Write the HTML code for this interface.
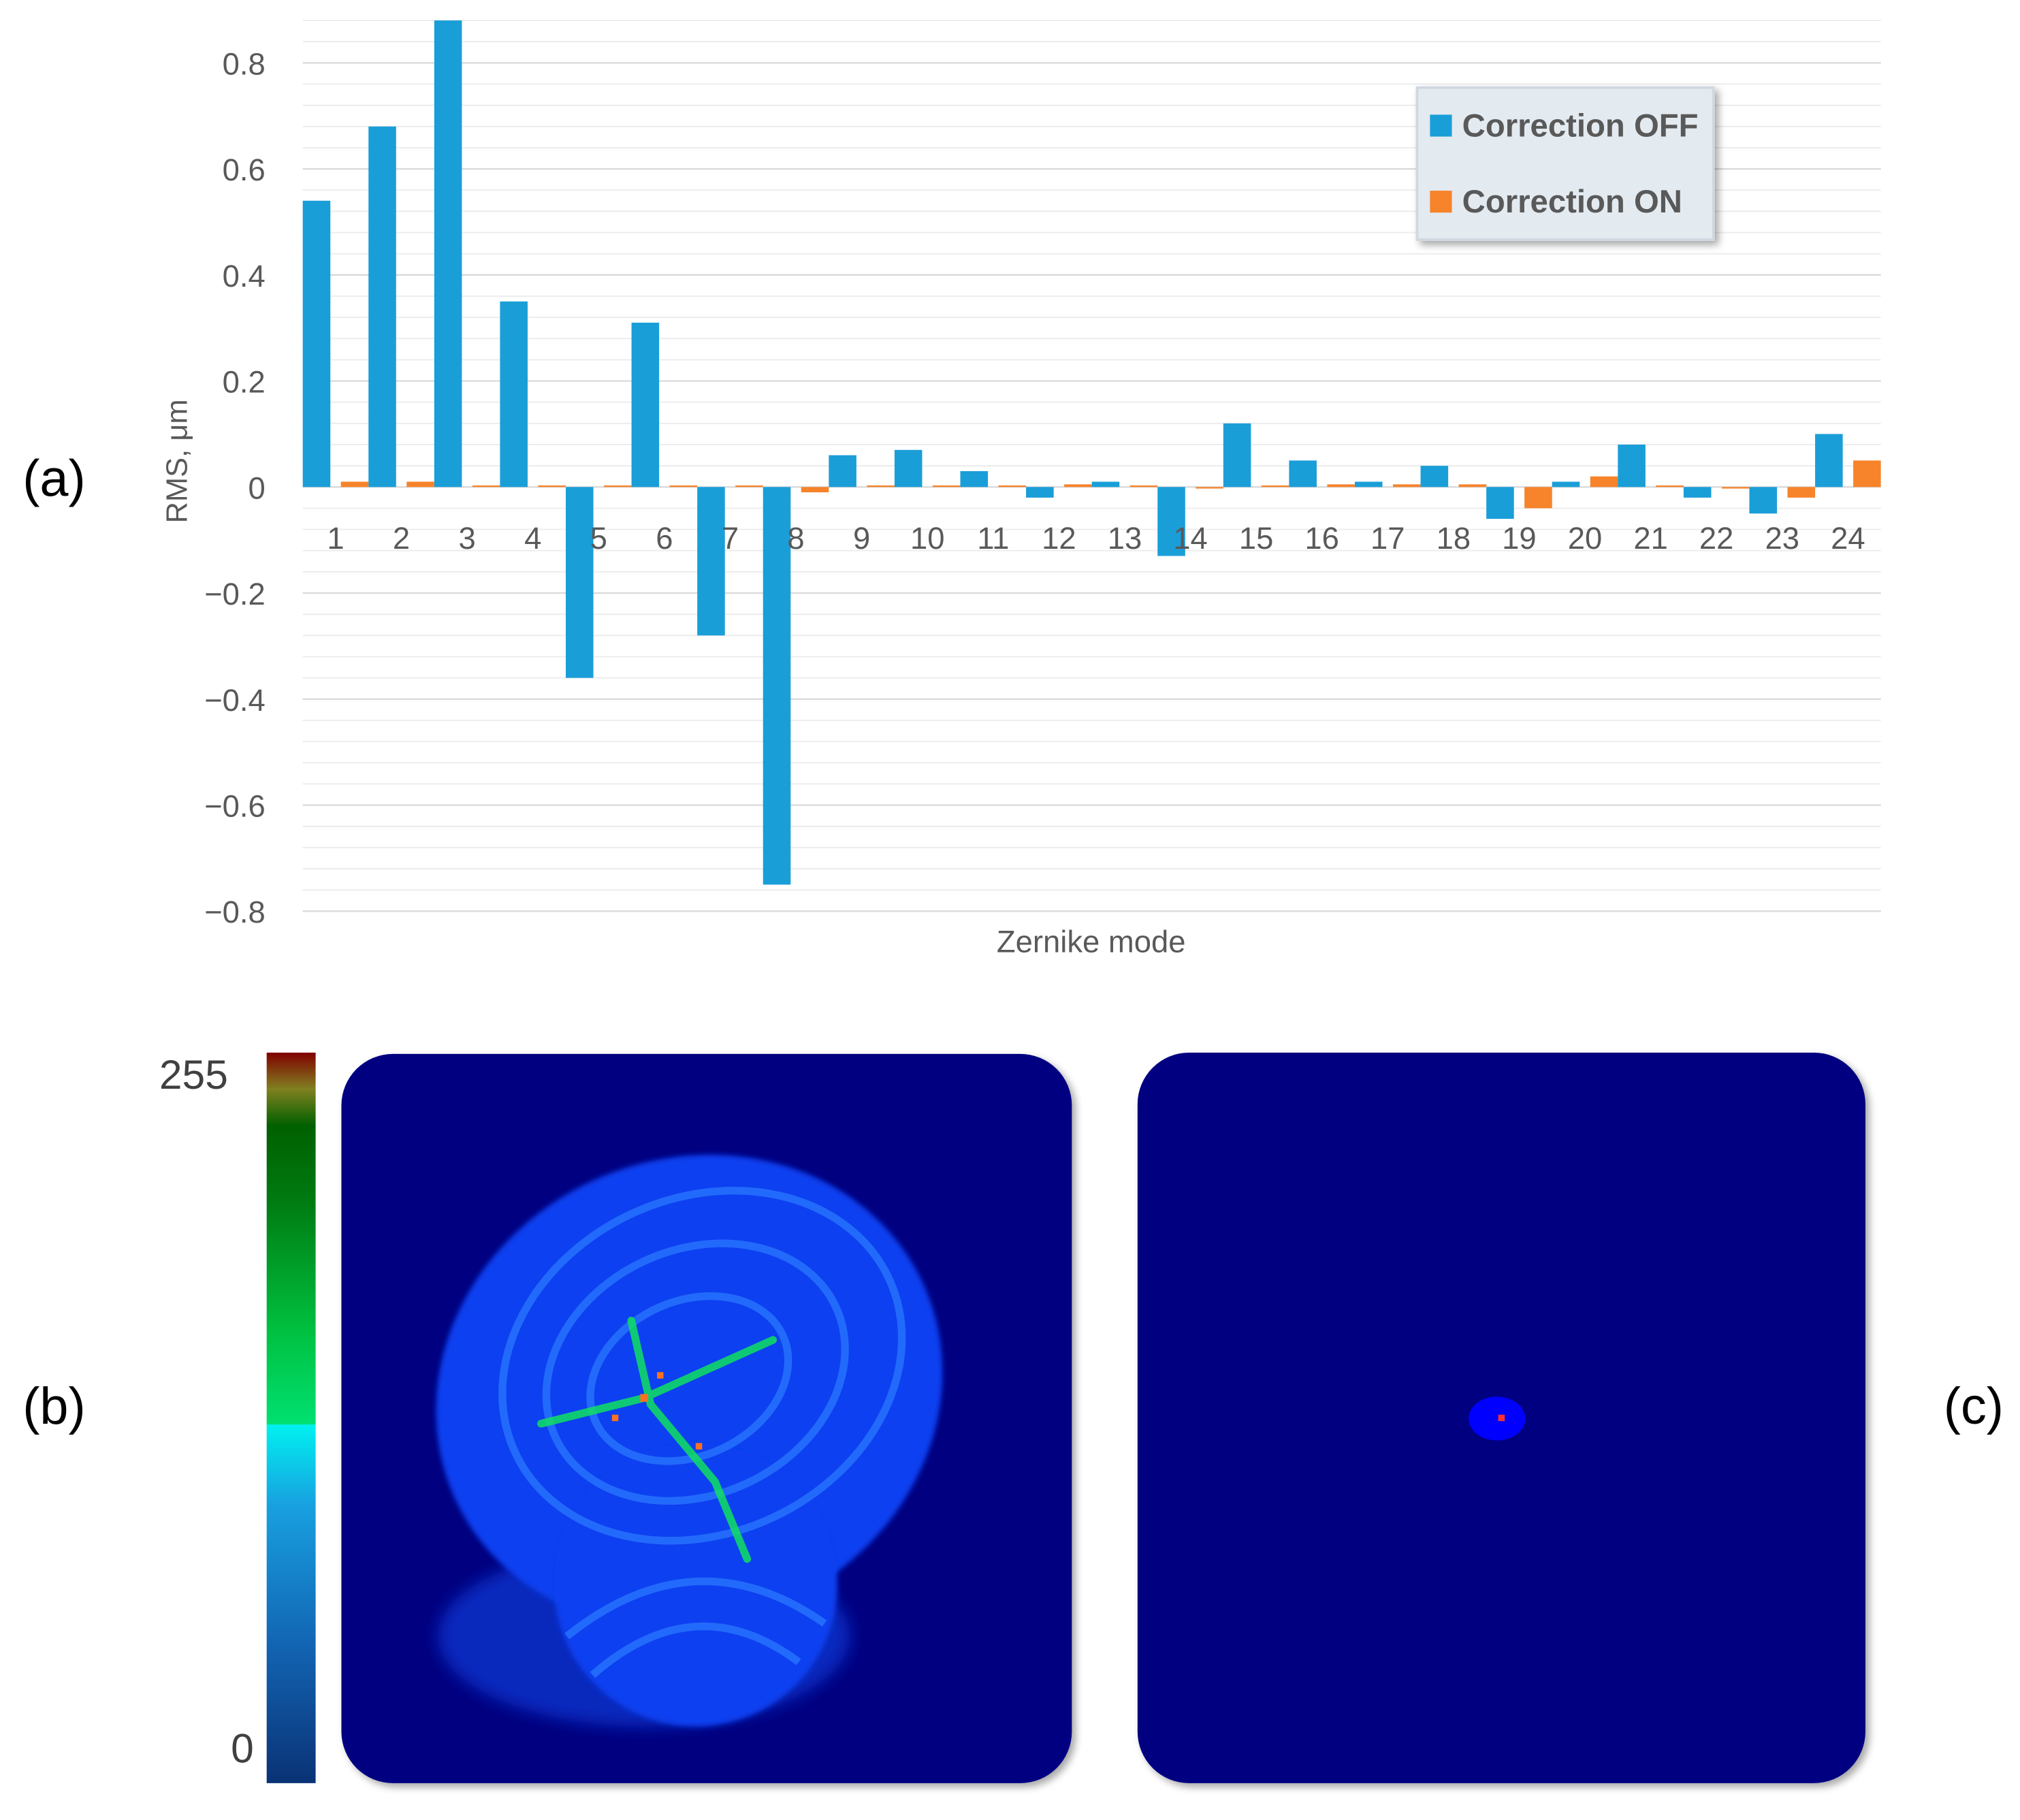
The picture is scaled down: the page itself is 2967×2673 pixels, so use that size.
<!DOCTYPE html>
<html><head><meta charset="utf-8"><style>
html,body{margin:0;padding:0;background:#fff;}
svg{display:block;}
text{font-family:"Liberation Sans","DejaVu Sans",sans-serif;}
</style></head><body>
<svg id="fig" width="2967" height="2673" viewBox="0 0 1568 1412.6" preserveAspectRatio="none" xmlns="http://www.w3.org/2000/svg">
<defs>
<linearGradient id="cbar" x1="0" y1="1" x2="0" y2="0">
<stop offset="0" stop-color="#0a3275"/>
<stop offset="0.18" stop-color="#1262b0"/>
<stop offset="0.38" stop-color="#18a0e0"/>
<stop offset="0.49" stop-color="#00f0f0"/>
<stop offset="0.492" stop-color="#00e070"/>
<stop offset="0.62" stop-color="#00c040"/>
<stop offset="0.8" stop-color="#007a10"/>
<stop offset="0.9" stop-color="#006000"/>
<stop offset="0.95" stop-color="#808020"/>
<stop offset="1" stop-color="#800000"/>
</linearGradient>
<filter id="shadow" x="-5%" y="-5%" width="115%" height="115%"><feDropShadow dx="3" dy="3" stdDeviation="3" flood-color="#000" flood-opacity="0.35"/></filter>
<filter id="blur2"><feGaussianBlur stdDeviation="2"/></filter>
<filter id="blur6"><feGaussianBlur stdDeviation="6"/></filter>
<clipPath id="clipB"><rect x="265" y="818" width="567" height="566" rx="40"/></clipPath>
</defs>

<g id="chart"></g>

<text x="42" y="385" font-size="40" text-anchor="middle" fill="#000">(a)</text>
<text x="42" y="1105" font-size="40" text-anchor="middle" fill="#000">(b)</text>
<text x="1532" y="1105" font-size="40" text-anchor="middle" fill="#000">(c)</text>

<rect x="207" y="817" width="38" height="567" fill="url(#cbar)"/>
<text x="177" y="845" font-size="32" text-anchor="end" fill="#404040">255</text>
<text x="197" y="1368" font-size="32" text-anchor="end" fill="#404040">0</text>

<g>
<rect x="265" y="818" width="567" height="566" rx="40" fill="#000080" filter="url(#shadow)"/>
<g clip-path="url(#clipB)">
<ellipse cx="500" cy="1270" rx="160" ry="70" fill="#0a3ad8" opacity="0.7" filter="url(#blur6)"/>
<ellipse cx="535" cy="1080" rx="200" ry="180" fill="#0840f0" transform="rotate(-25 535 1080)" filter="url(#blur2)"/>
<ellipse cx="540" cy="1230" rx="110" ry="110" fill="#0a40f0" filter="url(#blur2)"/>
<g fill="none" stroke="#2a78ff" stroke-width="6" opacity="0.75">
<ellipse cx="545" cy="1060" rx="160" ry="130" transform="rotate(-25 545 1060)"/>
<ellipse cx="540" cy="1065" rx="120" ry="95" transform="rotate(-25 540 1065)"/>
<ellipse cx="535" cy="1070" rx="80" ry="60" transform="rotate(-25 535 1070)"/>
<path d="M440 1270 Q540 1190 640 1260"/>
<path d="M460 1300 Q540 1230 620 1290"/>
</g>
<g stroke="#10e060" stroke-width="6" fill="none" stroke-linecap="round" opacity="0.85">
<path d="M420 1105 L500 1085 L600 1040"/>
<path d="M490 1025 L505 1090 L555 1150 L580 1210"/>
</g>
<g fill="#ff7020">
<rect x="497" y="1082" width="6" height="6"/><rect x="510" y="1065" width="5" height="5"/><rect x="540" y="1120" width="5" height="5"/><rect x="475" y="1098" width="5" height="5"/>
</g>
</g>
</g>

<g>
<rect x="883" y="817" width="565" height="567" rx="40" fill="#000080" filter="url(#shadow)"/>
<ellipse cx="1162" cy="1101" rx="22" ry="17" fill="#0000ff"/>
<rect x="1163" y="1098" width="5" height="5" fill="#ff3030"/>
</g>

<script>
const categories = ["1","2","3","4","5","6","7","8","9","10","11","12","13","14","15","16","17","18","19","20","21","22","23","24"];
const offValues = [0.54,0.68,0.88,0.35,-0.36,0.31,-0.28,-0.75,0.06,0.07,0.03,-0.02,0.01,-0.13,0.12,0.05,0.01,0.04,-0.06,0.01,0.08,-0.02,-0.05,0.10];
const onValues = [0.01,0.01,0.003,0.003,0.003,0.003,0.003,-0.01,0.003,0.003,0.003,0.005,0.003,0,0.003,0.005,0.005,0.005,-0.04,0.02,0.003,0,-0.02,0.05];
const yTicks = [0.8,0.6,0.4,0.2,0,-0.2,-0.4,-0.6,-0.8];
const yTickLabels = ["0.8","0.6","0.4","0.2","0","\u22120.2","\u22120.4","\u22120.6","\u22120.8"];
const seriesNames = ["Correction OFF","Correction ON"];

const NS = "http://www.w3.org/2000/svg";
const g = document.getElementById("chart");
const X0 = 235, X1 = 1460, Y0 = 378, PER = 82.3/0.2;
const step = (X1 - X0) / categories.length;
function y(v){ return Y0 - v*PER; }
function xg(i){ return X0 + i*step; }
function mk(tag, attrs){ const e = document.createElementNS(NS, tag); for (const k in attrs) e.setAttribute(k, attrs[k]); g.appendChild(e); return e; }

for (let v = -0.8; v <= 0.881; v += 0.04) {
  const l = mk("line", {x1:X0, x2:X1, y1:y(v), y2:y(v), stroke:"#ececec", "stroke-width":1});
  
  
}
yTicks.forEach((v, i) => {
  const l = mk("line", {x1:X0, x2:X1, y1:y(v), y2:y(v), stroke:"#d9d9d9", "stroke-width":1.2});
  
  
  const t = mk("text", {x:206, y:y(v)+9, "font-size":24, "text-anchor":"end", fill:"#595959"});
  t.textContent = yTickLabels[i];
  
  
});
const bw = step*0.42;
categories.forEach((c, i) => {
  const b1 = mk("rect", {x:xg(i), width:bw, y:Math.min(y(offValues[i]),Y0), height:Math.max(Math.abs(y(offValues[i])-Y0),0.5), fill:"#1a9ed8"});
  
  
  const b2 = mk("rect", {x:xg(i)+step*0.58, width:bw, y:Math.min(y(onValues[i]),Y0), height:Math.max(Math.abs(y(onValues[i])-Y0),1.2), fill:"#f7832a"});
  
  
  const t = mk("text", {x:xg(i)+step/2, y:426, "font-size":24, "text-anchor":"middle", fill:"#595959"});
  t.textContent = c;
  
  
});
const xt = mk("text", {x:847, y:739, "font-size":24, "text-anchor":"middle", fill:"#595959"});
xt.textContent = "Zernike mode";


const yt = mk("text", {x:0, y:0, "font-size":23, "text-anchor":"middle", fill:"#595959", transform:"translate(145 358) rotate(-90)"});
yt.textContent = "RMS, \u03bcm";


const lg = mk("rect", {x:1100, y:68, width:230, height:118, fill:"#e3eaf0", stroke:"#d0d8e0", "stroke-width":2, filter:"url(#shadow)"});


const colors = ["#1a9ed8","#f7832a"];
seriesNames.forEach((n, i) => {
  const s = mk("rect", {x:1110, y:89+i*59, width:17, height:17, fill:colors[i]});
  
  
  const t = mk("text", {x:1135, y:106+i*59, "font-size":25, "font-weight":"bold", fill:"#595959"});
  t.textContent = n;
  
  
});
</script>
</svg>
</body></html>
